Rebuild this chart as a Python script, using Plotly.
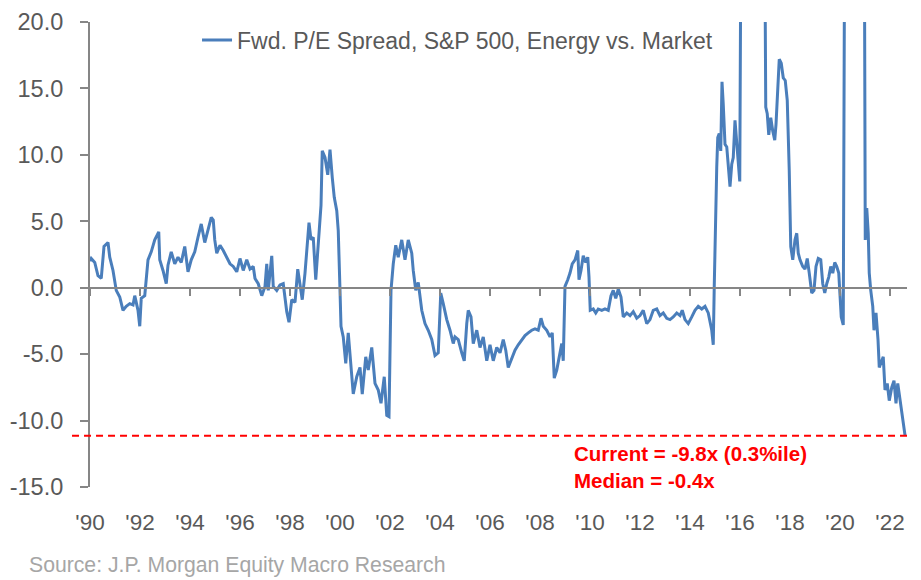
import plotly.graph_objects as go

# ---- data (decimal year, forward P/E spread: Energy minus S&P 500) ----
years_90s = [1990.00, 1990.05, 1990.19, 1990.32, 1990.45, 1990.56, 1990.72, 1990.79, 1990.92,
             1991.05, 1991.19, 1991.32, 1991.45, 1991.59, 1991.72, 1991.79, 1991.92, 1991.99,
             1992.05, 1992.19, 1992.32, 1992.45, 1992.59, 1992.75, 1992.79, 1992.92,
             1993.05, 1993.12, 1993.25, 1993.39, 1993.52, 1993.65, 1993.79, 1993.92,
             1994.05, 1994.19, 1994.32, 1994.45, 1994.59, 1994.72, 1994.85, 1994.93, 1994.99,
             1995.07, 1995.20, 1995.33, 1995.47, 1995.60, 1995.73, 1995.87,
             1996.00, 1996.13, 1996.27, 1996.40, 1996.53, 1996.60, 1996.73, 1996.87,
             1997.00, 1997.07, 1997.13, 1997.27, 1997.33, 1997.47, 1997.60, 1997.73, 1997.87, 1997.96,
             1998.07, 1998.20, 1998.31, 1998.40, 1998.49, 1998.60, 1998.71, 1998.76, 1998.84, 1998.93,
             1999.03, 1999.13, 1999.24, 1999.29, 1999.40, 1999.51, 1999.60, 1999.69, 1999.77, 1999.87, 1999.93]
spread_90s = [2.0, 2.2, 1.9, 0.9, 0.7, 3.1, 3.4, 2.3, 1.3,
              -0.2, -0.7, -1.7, -1.4, -1.2, -1.3, -0.6, -1.7, -2.9,
              -0.8, -0.6, 2.1, 2.7, 3.6, 4.2, 2.1, 1.3,
              0.3, 1.7, 2.7, 1.8, 2.3, 1.9, 3.1, 1.2,
              2.1, 2.7, 3.8, 4.8, 3.4, 4.3, 5.3, 5.1, 3.6,
              2.6, 3.2, 2.8, 2.3, 1.8, 1.6, 1.2,
              2.2, 1.3, 2.1, 1.4, 1.6, 0.7, 0.3, -0.6,
              0.1, 1.8, -0.2, 2.4, 0.1, -0.2, 0.2, 0.3, -1.8, -2.6,
              -0.9, -1.1, 1.4, 0.1, -0.9, 1.1, 3.3, 4.9, 3.6, 3.8,
              0.6, 3.3, 6.2, 10.3, 9.8, 8.5, 10.4, 8.3, 6.8, 5.8, 4.3]

years_00s = [2000.00, 2000.04, 2000.13, 2000.23, 2000.33, 2000.44, 2000.53, 2000.67, 2000.80, 2000.89,
             2001.03, 2001.13, 2001.27, 2001.40, 2001.53, 2001.64, 2001.77, 2001.87, 2001.96,
             2002.04, 2002.13, 2002.23, 2002.33, 2002.47, 2002.60, 2002.73, 2002.87, 2002.93,
             2003.03, 2003.13, 2003.27, 2003.40, 2003.53, 2003.67, 2003.80, 2003.93,
             2004.03, 2004.13, 2004.27, 2004.40, 2004.53, 2004.60, 2004.73, 2004.87, 2004.97,
             2005.07, 2005.13, 2005.24, 2005.33, 2005.47, 2005.60, 2005.73, 2005.87,
             2006.00, 2006.13, 2006.27, 2006.40, 2006.53, 2006.63, 2006.73, 2006.87,
             2007.00, 2007.13, 2007.27, 2007.40, 2007.53, 2007.67, 2007.80, 2007.93,
             2008.04, 2008.13, 2008.27, 2008.40, 2008.49, 2008.57, 2008.67, 2008.76, 2008.87, 2008.93,
             2009.00, 2009.11, 2009.20, 2009.29, 2009.40, 2009.51, 2009.56, 2009.64, 2009.73, 2009.83,
             2009.91, 2009.96]
spread_00s = [-0.2, -2.9, -3.7, -5.7, -3.4, -5.7, -8.0, -6.7, -6.0, -8.0,
              -5.2, -6.2, -4.5, -7.2, -7.7, -8.7, -6.7, -9.6, -9.7,
              -0.2, 1.8, 3.2, 2.3, 3.6, 2.1, 3.6, 2.6, 1.3,
              -0.2, 0.4, -1.7, -2.7, -3.2, -3.9, -5.1, -4.9,
              -0.4, -1.2, -2.4, -3.2, -4.2, -3.7, -3.9, -4.9, -5.5,
              -2.7, -1.7, -2.2, -4.2, -3.2, -4.5, -3.7, -5.5,
              -4.3, -5.5, -4.5, -4.9, -3.9, -4.7, -6.0, -5.3,
              -4.7, -4.3, -3.9, -3.6, -3.4, -3.2, -3.1, -3.2,
              -2.3, -2.9, -3.2, -3.7, -3.4, -6.8, -6.2, -5.2, -4.2, -5.5,
              0.1, 0.6, 1.1, 1.8, 2.1, 2.8, 0.6, 1.3, 2.4, 1.9,
              2.3, 0.8]

years_10s = [2010.01, 2010.13, 2010.23, 2010.33, 2010.47, 2010.60, 2010.73, 2010.84, 2010.93,
             2011.03, 2011.13, 2011.24, 2011.33, 2011.47, 2011.60, 2011.73, 2011.87,
             2012.00, 2012.13, 2012.27, 2012.40, 2012.53, 2012.67, 2012.80, 2012.93,
             2013.07, 2013.20, 2013.33, 2013.47, 2013.60, 2013.69, 2013.80, 2013.93,
             2014.07, 2014.20, 2014.33, 2014.47, 2014.60, 2014.73, 2014.87, 2014.93, 2014.97,
             2015.01, 2015.07, 2015.11, 2015.17, 2015.23, 2015.28, 2015.33, 2015.40, 2015.47,
             2015.53, 2015.60, 2015.67, 2015.73, 2015.80, 2015.87, 2015.93, 2015.99,
             2016.04, 2016.20, 2016.50, 2016.80, 2016.98,
             2017.03, 2017.09, 2017.15, 2017.23, 2017.31, 2017.39, 2017.44, 2017.51, 2017.57,
             2017.65, 2017.73, 2017.81, 2017.89, 2017.97,
             2018.03, 2018.11, 2018.20, 2018.27, 2018.33, 2018.40, 2018.51, 2018.60, 2018.69,
             2018.77, 2018.87, 2018.96,
             2019.04, 2019.13, 2019.23, 2019.31, 2019.39, 2019.47, 2019.55, 2019.63, 2019.71,
             2019.79, 2019.87, 2019.95]
spread_10s = [-1.7, -1.6, -1.9, -1.6, -1.7, -1.6, -1.7, -0.6, -0.2,
              -0.8, -0.1, -0.7, -2.2, -1.9, -2.1, -1.8, -2.3,
              -2.1, -1.7, -2.7, -2.4, -1.7, -1.6, -2.1, -1.9,
              -2.3, -2.4, -2.2, -1.9, -2.1, -1.7, -2.4, -2.7,
              -2.2, -1.7, -1.4, -1.6, -1.4, -1.9, -3.2, -4.3, 0.1,
              5.1, 9.1, 11.3, 11.6, 10.3, 15.5, 13.8, 10.8, 10.6,
              8.8, 7.6, 9.3, 9.8, 12.6, 10.6, 9.1, 8.0,
              28.0, 45.0, 70.0, 50.0, 30.0,
              13.6, 13.1, 11.5, 12.8, 11.8, 11.1, 12.3, 15.6, 17.2,
              16.9, 15.8, 15.6, 14.1, 8.8,
              3.1, 2.1, 3.6, 4.1, 2.6, 2.1, 1.6, 1.4, 2.2,
              1.1, -0.4, -0.2,
              1.6, 2.2, 2.1, 0.3, -0.4, 0.3, 0.8, 1.6, 1.1,
              1.9, 1.6, 1.1]

years_20s = [2020.00, 2020.05, 2020.13, 2020.20, 2020.40, 2020.70, 2020.90, 2020.97,
             2021.01, 2021.07, 2021.13, 2021.17, 2021.23, 2021.31, 2021.36, 2021.44, 2021.52,
             2021.57, 2021.67, 2021.73, 2021.80, 2021.89, 2021.97,
             2022.07, 2022.16, 2022.24, 2022.31, 2022.40, 2022.47, 2022.53, 2022.60]
spread_20s = [-0.4, -2.2, -2.8, 35.0, 60.0, 80.0, 40.0, 30.0,
              3.6, 6.0, 4.1, 1.1, -0.2, -1.4, -3.2, -1.9, -3.9,
              -6.0, -5.5, -5.2, -7.7, -7.2, -8.5,
              -7.5, -7.0, -8.7, -7.2, -8.5, -9.2, -10.5, -11.1]

years = years_90s + years_00s + years_10s + years_20s
spread = spread_90s + spread_00s + spread_10s + spread_20s

current_level = -11.15
series_name = "Fwd. P/E Spread, S&P 500, Energy vs. Market"
current_text = "Current = -9.8x (0.3%ile)"
median_text = "Median = -0.4x"
source_text = "Source: J.P. Morgan Equity Macro Research"

x_tick_vals = list(range(1990, 2023, 2))
x_tick_text = ["'" + str(y)[2:] for y in x_tick_vals]
y_tick_vals = [-15, -10, -5, 0, 5, 10, 15, 20]
y_tick_text = ["%.1f" % v for v in y_tick_vals]
x_range = [1990.0, 2022.68]
y_range = [-15, 20]

AXIS = "#868686"
TEXT = "#595959"
REG = "Liberation Sans, Arial, sans-serif"

fig = go.Figure()
fig.add_trace(go.Scatter(
    x=years, y=spread, mode="lines", name=series_name,
    line=dict(color="#4a7ebb", width=3),
    hoverinfo="x+y",
))
# transparent copy on the overlaid axis that carries the zero line and its tick marks
fig.add_trace(go.Scatter(
    x=years, y=spread, mode="lines", xaxis="x2", yaxis="y",
    line=dict(color="rgba(0,0,0,0)", width=0), opacity=0,
    showlegend=False, hoverinfo="skip",
))

fig.add_shape(type="line", xref="paper", yref="y",
              x0=-0.022, x1=1.0, y0=current_level, y1=current_level,
              line=dict(color="#ff0000", width=2, dash="7px,5px"), layer="above")

fig.add_annotation(text=current_text, xref="paper", yref="paper", x=0.59, y=0.071,
                   xanchor="left", yanchor="middle", showarrow=False,
                   font=dict(family=REG, size=20.5, color="#ff0000", weight="bold"))
fig.add_annotation(text=median_text, xref="paper", yref="paper", x=0.59, y=0.0142,
                   xanchor="left", yanchor="middle", showarrow=False,
                   font=dict(family=REG, size=20.5, color="#ff0000", weight="bold"))
fig.add_annotation(text=source_text, xref="paper", yref="paper", x=-0.077, y=-0.1678,
                   xanchor="left", yanchor="middle", showarrow=False,
                   font=dict(family=REG, size=21.2, color="#a6a6a6"))

# the page body adds an 8px offset, so the figure is sized/margined to place the
# plot area where the reference has it
fig.update_layout(
    width=913, height=572,
    margin=dict(l=82, r=14, t=14, b=93, autoexpand=False),
    paper_bgcolor="white", plot_bgcolor="white",
    showlegend=True,
    legend=dict(x=0.131, y=0.9613, xanchor="left", yanchor="middle",
                bgcolor="rgba(0,0,0,0)", borderwidth=0,
                font=dict(family=REG, size=23, color=TEXT)),
    xaxis=dict(range=x_range, tickvals=x_tick_vals, ticktext=x_tick_text,
               showline=False, ticks="", showgrid=False, zeroline=False,
               tickfont=dict(family=REG, size=22.5, color=TEXT),
               ticklabelstandoff=19, automargin=False),
    xaxis2=dict(range=x_range, overlaying="x", anchor="free", position=15 / 35,
                tickvals=x_tick_vals, showticklabels=False,
                ticks="outside", ticklen=7, tickwidth=2, tickcolor=AXIS,
                showline=True, linecolor=AXIS, linewidth=2,
                showgrid=False, zeroline=False, automargin=False),
    yaxis=dict(range=y_range, tickvals=y_tick_vals, ticktext=y_tick_text,
               showline=True, linecolor=AXIS, linewidth=2,
               ticks="outside", ticklen=8, tickwidth=2, tickcolor=AXIS,
               showgrid=False, zeroline=False,
               tickfont=dict(family=REG, size=23.5, color=TEXT),
               ticklabelstandoff=12, automargin=False),
)

fig.write_html("out.html")
